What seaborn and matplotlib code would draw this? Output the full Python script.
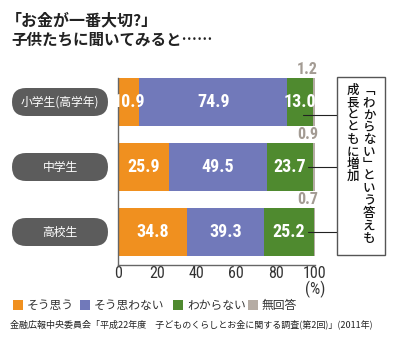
import numpy as np
import pandas as pd
import matplotlib
matplotlib.use("Agg")
import matplotlib.pyplot as plt
from matplotlib.patches import FancyBboxPatch, Rectangle
import seaborn as sns

sns.set_style("white")
plt.rcParams["font.family"] = ["Noto Sans CJK JP", "DejaVu Sans"]

# ---- data ----
grades = ["小学生(高学年)", "中学生", "高校生"]
agree = [10.9, 25.9, 34.8]        # そう思う
disagree = [74.9, 49.5, 39.3]     # そう思わない
unsure = [13.0, 23.7, 25.2]       # わからない
no_answer = [1.2, 0.9, 0.7]       # 無回答
series_names = ["そう思う", "そう思わない", "わからない", "無回答"]
x_ticks = [0, 20, 40, 60, 80, 100]

colors = ["#F0901F", "#7179BA", "#4F8A2F", "#B5ACA4"]
pill_color = "#5C5C5C"
num_font = ["Roboto Condensed", "Archivo Narrow", "DejaVu Sans"]

df = pd.DataFrame({
    "grade": grades,
    "agree": agree,
    "disagree": disagree,
    "unsure": unsure,
    "no_answer": no_answer,
})
df["c1"] = df["agree"]
df["c2"] = df["c1"] + df["disagree"]
df["c3"] = df["c2"] + df["unsure"]
df["c4"] = df["c3"] + df["no_answer"]

W, H = 400, 342
fig = plt.figure(figsize=(W / 100, H / 100), dpi=100)
ax = fig.add_axes([118 / W, 1 - 265 / H, (315 - 118) / W, (265 - 78) / H])

bar_w = 0.74
# stacked bars: draw cumulative totals from back to front
for col, c in zip(["c4", "c3", "c2", "c1"], colors[::-1]):
    sns.barplot(data=df, x=col, y="grade", orient="h", color=c,
                saturation=1, width=bar_w, linewidth=0, ax=ax)

ax.set_xlim(0, 100)
ax.set_ylim(2 + (265 - 232) / 65, -(102 - 78) / 65)
ax.set_xlabel("")
ax.set_ylabel("")
ax.set_yticks([])
ax.set_xticks(x_ticks)
ax.set_xticklabels([str(t) for t in x_ticks], family=num_font,
                   fontsize=11.5, color="#333333")
ax.tick_params(axis="x", direction="in", length=4, width=0.9,
               color="#555555", pad=1)
for s in ["top", "right"]:
    ax.spines[s].set_visible(False)
for s in ["left", "bottom"]:
    ax.spines[s].set_color("#666666")
    ax.spines[s].set_linewidth(1.0)

# segment value labels
for i in range(len(grades)):
    starts = [0, df.c1[i], df.c2[i]]
    vals = [agree[i], disagree[i], unsure[i]]
    for s, v in zip(starts, vals):
        ax.text(s + v / 2, i, f"{v:.1f}", ha="center", va="center",
                color="white", fontsize=13, fontweight="bold",
                family=num_font)
    ax.text(df.c4[i] + 1.5, i - bar_w / 2 - 0.01, f"{no_answer[i]:.1f}",
            ha="right", va="bottom", color="#A39B93", fontsize=11.5,
            fontweight="bold", family=num_font)

ax.text(100, -0.085, "(%)", transform=ax.get_xaxis_transform(),
        ha="center", va="top", fontsize=11.5, color="#333333",
        family=num_font)

# connector lines to the callout box
line_y = [0.2, 0.0, 0.0]
line_x0 = [94.0, 96.5, 96.5]
for i in range(len(grades)):
    ax.plot([line_x0[i], 111.2], [i + line_y[i], i + line_y[i]],
            color="#222222", lw=0.8, clip_on=False)

# grade labels in rounded pills
inv = fig.transFigure.inverted()
for i, g in enumerate(grades):
    _, yf = inv.transform(ax.transData.transform((0, i)))
    pw, ph = 96 / W, 28 / H
    cx = 60 / W
    pill = FancyBboxPatch((cx - pw / 2 + 7 / W, yf - ph / 2 + 7 / H),
                          pw - 14 / W, ph - 14 / H,
                          boxstyle="round,pad=0.0175,rounding_size=0.035",
                          transform=fig.transFigure, facecolor=pill_color,
                          edgecolor="none", mutation_aspect=W / H)
    fig.add_artist(pill)
    fig.text(cx, yf, g, ha="center", va="center", color="white",
             fontsize=8.5)

# callout box with vertical text
box = Rectangle((337 / W, 1 - 255 / H), 48 / W, 178 / H,
                transform=fig.transFigure, facecolor="white",
                edgecolor="#555555", linewidth=1.0)
fig.add_artist(box)
col_right = "\ufe41わからない\ufe42という答えも"
col_left = "成長とともに増加"
fig.text(369 / W, 1 - 84 / H, "\n".join(col_right), ha="center", va="top",
         fontsize=9, linespacing=0.93, color="#111111", fontweight="medium")
fig.text(353 / W, 1 - 84 / H, "\n".join(col_left), ha="center", va="top",
         fontsize=9, linespacing=0.93, color="#111111", fontweight="medium")

# title
fig.text(6 / W, 1 - 20 / H, "「お金が一番大切?」", ha="left", va="center",
         fontsize=11.5, fontweight="bold", color="#222222")
fig.text(11 / W, 1 - 40 / H, "子供たちに聞いてみると……", ha="left",
         va="center", fontsize=11.2, fontweight="bold", color="#222222")

# legend
leg_x = [13, 80, 173, 248]
for x0, name, c in zip(leg_x, series_names, colors):
    fig.add_artist(Rectangle((x0 / W, 1 - 310 / H), 10 / W, 10 / H,
                             transform=fig.transFigure, facecolor=c,
                             edgecolor="none"))
    fig.text((x0 + 14) / W, 1 - 305 / H, name, ha="left", va="center",
             fontsize=8.5, color="#333333")

# source
fig.text(10 / W, 1 - 324 / H,
         "金融広報中央委員会「平成22年度　子どものくらしとお金に関する調査(第2回)」(2011年)",
         ha="left", va="center", fontsize=6.5, color="#222222")

fig.savefig("out.png", dpi=100)
